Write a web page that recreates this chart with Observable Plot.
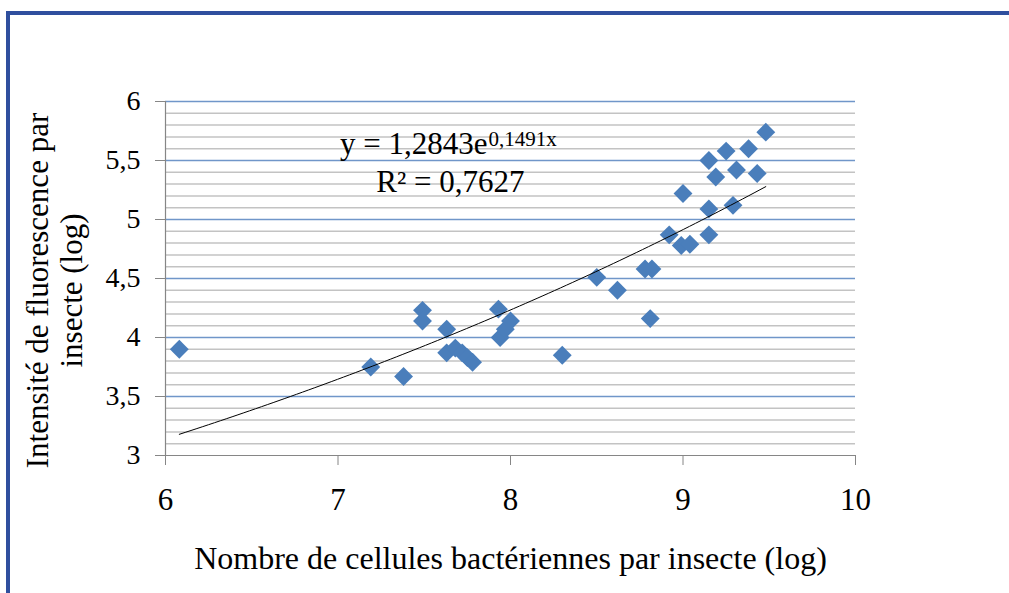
<!DOCTYPE html>
<html>
<head>
<meta charset="utf-8">
<script src="https://cdn.jsdelivr.net/npm/d3@7"></script>
<script src="https://cdn.jsdelivr.net/npm/@observablehq/plot@0.6"></script>
<style>
  html, body { margin: 0; padding: 0; background: #fff; }
  #wrap { position: relative; width: 1009px; height: 593px; overflow: hidden; }
  #frame { position: absolute; left: 6px; top: 11px; width: 1100px; height: 700px;
           border-top: 4px solid #2F4F9E; border-left: 4px solid #2F4F9E; pointer-events: none; }
  #chart { position: absolute; left: 0; top: 0; }
</style>
</head>
<body>
<div id="wrap"><div id="chart"></div><div id="frame"></div></div>
<script>
// Data
const bacteriaLog = [6.08, 7.19, 7.38, 7.49, 7.49, 7.63, 7.63, 7.68, 7.72, 7.75, 7.78,
  7.93, 7.94, 7.97, 8.00, 8.30, 8.50, 8.62, 8.78, 8.82, 8.81, 8.92, 8.99, 9.04, 9.00,
  9.15, 9.15, 9.15, 9.19, 9.25, 9.29, 9.31, 9.38, 9.43, 9.48];
const fluorescenceLog = [3.90, 3.75, 3.67, 4.23, 4.14, 4.07, 3.87, 3.91, 3.87, 3.83, 3.79,
  4.24, 4.00, 4.07, 4.14, 3.85, 4.51, 4.40, 4.58, 4.58, 4.16, 4.87, 4.78, 4.79, 5.22,
  4.87, 5.09, 5.50, 5.36, 5.58, 5.12, 5.42, 5.60, 5.39, 5.74];

// Exponential trendline coefficients shown on the chart
const trendA = 1.2843;
const trendB = 0.1491;
const equationMain = "y = 1,2843e";
const equationExp = "0,1491x";
const r2Label = "R² = 0,7627";

const xTicks = [6, 7, 8, 9, 10];
const xTickLabels = ["6", "7", "8", "9", "10"];
const yTicks = [3, 3.5, 4, 4.5, 5, 5.5, 6];
const yTickLabels = ["3", "3,5", "4", "4,5", "5", "5,5", "6"];
const yMinor = d3.range(30, 61).map(d => d / 10).filter(v => Math.abs(v * 2 - Math.round(v * 2)) > 1e-9);

const xTitle = "Nombre de cellules bactériennes par insecte (log)";
const yTitle = "Intensité de fluorescence par\ninsecte (log)";

const points = bacteriaLog.map((x, i) => ({x, y: fluorescenceLog[i]}));
const xMin = d3.min(bacteriaLog), xMax = d3.max(bacteriaLog);
const trend = d3.range(0, 101).map(i => {
  const x = xMin + (xMax - xMin) * i / 100;
  return {x, y: trendA * Math.exp(trendB * x)};
});

const serif = "Liberation Serif";
const xLabelData = xTicks.map((v, i) => ({v, t: xTickLabels[i]}));
const yLabelData = yTicks.map((v, i) => ({v, t: yTickLabels[i]}));

const chart = Plot.plot({
  width: 1009,
  height: 593,
  marginLeft: 165,
  marginRight: 154,
  marginTop: 101,
  marginBottom: 138,
  style: {fontFamily: serif, color: "black", background: "white", overflow: "visible"},
  x: {domain: [6, 10], axis: null},
  y: {domain: [3, 6], axis: null},
  marks: [
    Plot.ruleY(yMinor, {x1: 6, x2: 10, stroke: "#c3c3c3", strokeWidth: 1.5}),
    Plot.ruleY(yTicks.filter(v => v > 3), {x1: 6, x2: 10, stroke: "#7096c9", strokeWidth: 1.5}),
    Plot.ruleY([3], {x1: 6, x2: 10, stroke: "#868686", strokeWidth: 1.2}),
    Plot.ruleX([6], {y1: 3, y2: 6, stroke: "#868686", strokeWidth: 1.2}),
    Plot.axisX(xTicks, {anchor: "bottom", tickSize: 10, tickFormat: () => "", stroke: "#868686", label: null}),
    Plot.axisY(yTicks, {anchor: "left", tickSize: 10, tickFormat: () => "", stroke: "#868686", label: null}),
    Plot.text(xLabelData, {x: "v", text: "t", frameAnchor: "bottom", dy: 45, textAnchor: "middle",
      lineAnchor: "middle", fontSize: 31, fontFamily: serif, fill: "black"}),
    Plot.text(yLabelData, {y: "v", text: "t", frameAnchor: "left", dx: -25, textAnchor: "end",
      lineAnchor: "middle", fontSize: 28, fontFamily: serif, fill: "black"}),
    Plot.dot(points, {x: "x", y: "y", symbol: "diamond2", r: 8.5, fill: "#4A7EBB", stroke: null}),
    Plot.line(trend, {x: "x", y: "y", stroke: "black", strokeWidth: 1}),
    Plot.text([equationMain], {x: 7.867, y: 5.559, text: d => d, textAnchor: "end", lineAnchor: "bottom",
      fontSize: 31, fontFamily: serif, fill: "black"}),
    Plot.text([equationExp], {x: 7.872, y: 5.627, text: d => d, textAnchor: "start", lineAnchor: "bottom",
      fontSize: 21, fontFamily: serif, fill: "black"}),
    Plot.text([r2Label], {x: 7.652, y: 5.229, text: d => d, textAnchor: "middle", lineAnchor: "bottom",
      fontSize: 31, fontFamily: serif, fill: "black"}),
    Plot.text([xTitle], {frameAnchor: "bottom", dy: 103, text: d => d, textAnchor: "middle", lineAnchor: "middle",
      fontSize: 32, fontFamily: serif, fill: "black"}),
    Plot.text([yTitle], {frameAnchor: "left", dx: -111, dy: 12, rotate: -90, text: d => d,
      textAnchor: "middle", lineAnchor: "middle", lineHeight: 1.1, fontSize: 31, fontFamily: serif, fill: "black"})
  ]
});
document.getElementById("chart").appendChild(chart);
</script>
</body>
</html>
